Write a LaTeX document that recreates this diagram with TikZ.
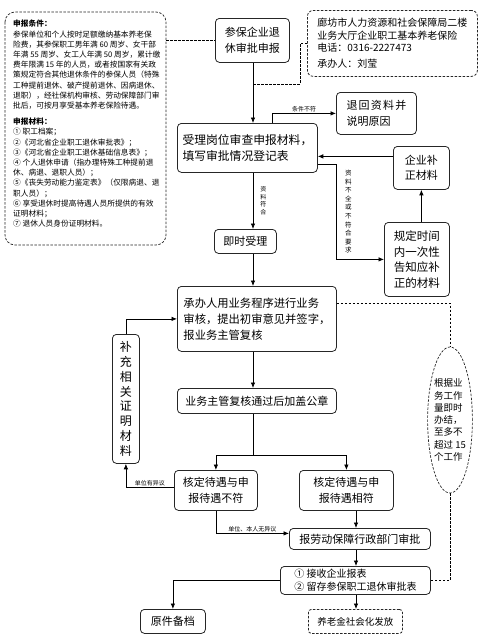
\documentclass[tikz,border=0pt]{standalone}
\usepackage{fontspec}
\setmainfont{Noto Sans CJK SC}
\usetikzlibrary{positioning,shapes,arrows.meta,calc}

\tikzset{
  >={Latex[length=5.5pt,width=4.5pt]},
  box/.style={rectangle, rounded corners=4pt, draw=black!85, line width=0.8pt, anchor=north west,
    inner sep=1pt, align=center, font=\fontsize{11}{15.5}\selectfont},
  dbox/.style={box, dash pattern=on 2.5pt off 1.5pt},
  line/.style={line width=0.7pt},
  dline/.style={line width=0.7pt, dash pattern=on 2.5pt off 1.5pt},
  tag/.style={font=\fontsize{6}{7}\selectfont, inner sep=0.8pt},
  vtag/.style={font=\fontsize{6.5}{8.6}\selectfont, inner sep=0pt, align=center},
}

\begin{document}
\begin{tikzpicture}[x=1pt, y=-1pt]
  \useasboundingbox (0,0) rectangle (488,640);
  % \draw[help lines, step=20] (0,0) grid (488,640);

  \coordinate (axis) at (253,0);
  \coordinate (axisb) at (356,0);
  \coordinate (join) at (253,84);
  \coordinate (split) at (253,455);

  % conditions and materials
  \draw[dline, draw=black!85, rounded corners=10pt] (5,12) rectangle (166,245);
  \coordinate (cond) at (166,40);
  \node[anchor=north west, inner sep=0pt, align=left, font=\fontsize{7.7}{10.2}\selectfont]
    (condtext) at (13,20) {%
    \textbf{申报条件：}\\
    参保单位和个人按时足额缴纳基本养老保\\
    险费，其参保职工男年满 60 周岁、女干部\\
    年满 55 周岁、女工人年满 50 周岁，累计缴\\
    费年限满 15 年的人员，或者按国家有关政\\
    策规定符合其他退休条件的参保人员（特殊\\
    工种提前退休、破产提前退休、因病退休、\\
    退职），经社保机构审核、劳动保障部门审\\
    批后，可按月享受基本养老保险待遇。\\[6pt]
    \textbf{申报材料：}\\
    ① 职工档案；\\
    ②《河北省企业职工退休审批表》；\\
    ③《河北省企业职工退休基础信息表》；\\
    ④ 个人退休申请（指办理特殊工种提前退\\
    休、病退、退职人员）；\\
    ⑤《丧失劳动能力鉴定表》（仅限病退、退\\
    职人员）；\\
    ⑥ 享受退休时提高待遇人员所提供的有效\\
    证明材料；\\
    ⑦ 退休人员身份证明材料。};

  \node[box, minimum width=74pt, minimum height=44pt] (start) at (215,18) {参保企业退\\休审批申报};
  \node[dbox, rounded corners=6pt, minimum width=170pt, minimum height=66pt, align=left,
    font=\fontsize{10}{12.5}\selectfont] (info) at (307,10)
    {廊坊市人力资源和社会保障局二楼\\业务大厅企业职工基本养老保险\\电话：0316-2227473\\[3pt]承办人：刘莹};

  \node[box, minimum width=140pt, minimum height=49pt, align=left, font=\fontsize{11.8}{16}\selectfont]
    (shouli) at (177,123) {受理岗位审查申报材料，\\填写审批情况登记表};
  \node[box, minimum width=80pt, minimum height=42pt, align=left] (tuihui) at (336,92)
    {退\hspace{1.2pt}回\hspace{1.2pt}资\hspace{1.2pt}料\hspace{1.2pt}并\\说明原因};
  \node[box, minimum width=56pt, minimum height=43pt] (buzheng) at (393,146) {企业补\\正材料};
  \node[box, minimum width=65pt, minimum height=74pt, font=\fontsize{11.5}{15.5}\selectfont]
    (guiding) at (384,222) {规定时间\\内一次性\\告知应补\\正的材料};
  \node[box, minimum width=62pt, minimum height=24pt] (jishi) at (214,229) {即时受理};

  \node[box, minimum width=159pt, minimum height=65pt, align=left, font=\fontsize{11.3}{16}\selectfont]
    (chengban) at (177,286) {承办人用业务程序进行业务\\审核，提出初审意见并签字，\\报业务主管复核};
  \node[ellipse, draw=black!85, line width=0.7pt, dash pattern=on 2.5pt off 1.5pt, inner sep=0pt,
    minimum width=44pt, minimum height=146pt, align=left, font=\fontsize{9.5}{12.3}\selectfont]
    (ell) at (450,420) {根据业\\务工作\\量即时\\办结，\\至多不\\超过 15\\个工作};
  \node[box, minimum width=27pt, minimum height=129pt, font=\fontsize{12}{14.8}\selectfont]
    (buchong) at (112,334) {补\\充\\相\\关\\证\\明\\材\\料};

  \node[box, minimum width=159pt, minimum height=25pt] (fuhe) at (177,388) {业务主管复核通过后加盖公章};
  \node[box, minimum width=83pt, minimum height=40pt] (bufu) at (174,470) {核定待遇与申\\报待遇不符};
  \node[box, minimum width=94pt, minimum height=40pt] (xiangfu) at (299,470) {核定待遇与申\\报待遇相符};
  \node[box, minimum width=141pt, minimum height=21pt] (baolao) at (289,528) {报劳动保障行政部门审批};
  \node[box, minimum width=150pt, minimum height=28pt, align=left, font=\fontsize{10}{12.5}\selectfont]
    (jieshou) at (280,566) {① 接收企业报表\\② 留存参保职工退休审批表};
  \node[box, minimum width=65pt, minimum height=24pt] (yuanjian) at (140,609) {原件备档};
  \node[dbox, rounded corners=3pt, minimum width=94pt, minimum height=24pt, font=\fontsize{9.5}{12}\selectfont]
    (yanglao) at (308,609) {养老金社会化发放};

  % connectors
  \draw[dline] (cond |- start.west) -- (start.west);
  \draw[dline] (info.west) -- ++(-7,0) |- (join);
  \draw[line,->] (start.south -| axis) -- (shouli.north -| axis);
  \draw[line,->] ([xshift=25pt]shouli.north) |- (tuihui.west) node[tag, pos=0.75, above] {条件不符};
  \draw[line,->] ([yshift=-8.5pt]shouli.east -| buzheng.west) -- ([yshift=-8.5pt]shouli.east);
  \draw[line,->] ([yshift=-16pt]shouli.east) -- ++(19,0) |- (guiding.west)
    node[vtag, pos=0.25, right=8pt] {资\\料\\不\\全\\或\\不\\符\\合\\要\\求};
  \draw[line,->] (guiding.north -| buzheng.south) -- (buzheng.south);
  \draw[line,->] (shouli.south -| axis) -- (jishi.north -| axis)
    node[vtag, midway, right=7pt, font=\fontsize{6}{7.5}\selectfont] {资\\料\\符\\合};
  \draw[line,->] (jishi.south -| axis) -- (chengban.north -| axis);
  \draw[dline] ([yshift=16pt]chengban.east) -| (ell.north);
  \draw[dline] (ell.south) |- (jieshou.east);
  \draw[line,->] (buchong.north) |- (chengban.west);
  \draw[line,->] (chengban.south -| axis) -- (fuhe.north -| axis);
  \draw[line] (fuhe.south -| axis) -- (split);
  \draw[line,->] (split) -| (bufu.north);
  \draw[line,->] (split) -| (xiangfu.north);
  \draw[line,->] ([yshift=3pt]bufu.west) -| (buchong.south) node[tag, pos=0.25, above] {单位有异议};
  \draw[line,->] (bufu.south) |- ([yshift=5.5pt]baolao.west) node[tag, pos=0.75, above] {单位、本人无异议};
  \draw[line,->] (xiangfu.south -| axisb) -- (baolao.north -| axisb);
  \draw[line,->] (baolao.south -| axisb) -- (jieshou.north -| axisb);
  \draw[line,->] (jieshou.west) -| (yuanjian.north);
  \draw[line,->] (jieshou.south -| axisb) -- (yanglao.north -| axisb);
\end{tikzpicture}
\end{document}
